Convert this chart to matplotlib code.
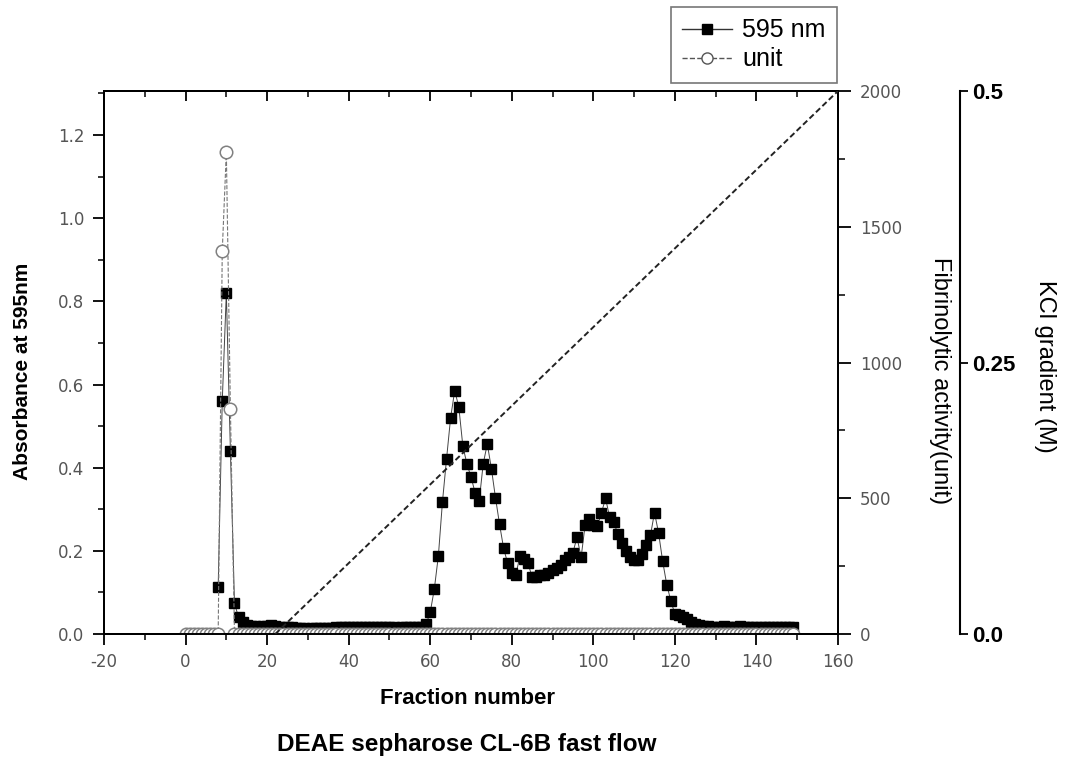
import matplotlib
matplotlib.use('Agg')
import matplotlib.pyplot as plt
from matplotlib.ticker import MultipleLocator, FormatStrFormatter
from matplotlib.lines import Line2D
import numpy as np

plt.rcParams['axes.unicode_minus'] = False

# Absorbance at 595 nm (fractions 8..149)
frac_a = list(range(8, 150))
abs_595 = [
    0.114, 0.56, 0.82, 0.44, 0.074, 0.040, 0.030, 0.022, 0.020, 0.019,   # 8-17
    0.018, 0.019, 0.020, 0.021, 0.020, 0.018, 0.017, 0.017, 0.016, 0.015,  # 18-27
    0.014, 0.014, 0.013, 0.014, 0.014, 0.015, 0.014, 0.015, 0.015, 0.016,  # 28-37
    0.016, 0.016, 0.017, 0.017, 0.017, 0.018, 0.018, 0.017, 0.017, 0.016,  # 38-47
    0.016, 0.017, 0.016, 0.016, 0.015, 0.016, 0.016, 0.017, 0.017, 0.018,  # 48-57
    0.018, 0.024, 0.052, 0.108, 0.188, 0.318, 0.421, 0.520, 0.585, 0.547,  # 58-67
    0.452, 0.409, 0.378, 0.340, 0.319, 0.410, 0.457, 0.398, 0.328, 0.264,  # 68-77
    0.206, 0.170, 0.147, 0.142, 0.188, 0.180, 0.170, 0.136, 0.138, 0.142,  # 78-87
    0.143, 0.147, 0.153, 0.158, 0.166, 0.177, 0.186, 0.196, 0.233, 0.184,  # 88-97
    0.263, 0.276, 0.263, 0.260, 0.292, 0.326, 0.281, 0.270, 0.240, 0.218,  # 98-107
    0.200, 0.185, 0.177, 0.179, 0.193, 0.215, 0.237, 0.292, 0.243, 0.175,  # 108-117
    0.119, 0.080, 0.048, 0.046, 0.041, 0.037, 0.030, 0.025, 0.021, 0.019,  # 118-127
    0.019, 0.018, 0.018, 0.018, 0.019, 0.018, 0.018, 0.018, 0.019, 0.018,  # 128-137
    0.018, 0.018, 0.017, 0.018, 0.018, 0.017, 0.017, 0.017, 0.017, 0.017,  # 138-147
    0.017, 0.017,                                                          # 148-149
]

# Fibrinolytic activity (unit), fractions 0..149
frac_u = list(range(0, 150))
unit_act = [0.0] * 150
unit_act[9] = 1410
unit_act[10] = 1775
unit_act[11] = 828

# KCl gradient (M)
frac_kcl = [22, 160]
kcl = [0.0, 0.5]

W, H = 1066, 758
fig = plt.figure(figsize=(W / 100, H / 100), dpi=100)
ax = fig.add_axes([104 / W, 1 - 634 / H, 734 / W, 543 / H])
ax2 = ax.twinx()
ax3 = ax.twinx()

tick_col = '#555555'

ax.plot(frac_a, abs_595, '-', color='#444444', lw=0.7,
        marker='s', ms=7, mfc='black', mec='black', zorder=3)
ax.set_xlim(-20, 160)
ax.set_ylim(0, 1.306)
ax.yaxis.set_major_locator(MultipleLocator(0.2))
ax.yaxis.set_minor_locator(MultipleLocator(0.1))
ax.yaxis.set_major_formatter(FormatStrFormatter('%.1f'))
ax.xaxis.set_major_locator(MultipleLocator(20))
ax.xaxis.set_minor_locator(MultipleLocator(10))
ax.tick_params(axis='both', which='major', direction='out', length=8, width=1.3,
               labelsize=12, labelcolor=tick_col, pad=6)
ax.tick_params(axis='both', which='minor', direction='out', length=4, width=1.1)
ax.tick_params(axis='y', right=False)
for lab in ax.get_xticklabels() + ax.get_yticklabels():
    lab.set_family('DejaVu Sans')

top = ax.secondary_xaxis('top')
top.xaxis.set_major_locator(MultipleLocator(20))
top.xaxis.set_minor_locator(MultipleLocator(10))
top.tick_params(which='major', direction='in', length=7, width=1.3, labeltop=False)
top.tick_params(which='minor', direction='in', length=4, width=1.1)
top.spines['top'].set_linewidth(1.4)

ax2.plot(frac_u, unit_act, '--', color='#777777', lw=0.8,
         marker='o', ms=9, mfc='white', mec='#808080', mew=1.1, zorder=2)
ax2.set_ylim(0, 2000)
ax2.yaxis.set_major_locator(MultipleLocator(500))
ax2.yaxis.set_minor_locator(MultipleLocator(250))
ax2.tick_params(axis='y', which='major', direction='out', length=9, width=1.3,
                labelsize=12, labelcolor=tick_col, pad=7)
ax2.tick_params(axis='y', which='minor', direction='out', length=5, width=1.1)
for lab in ax2.get_yticklabels():
    lab.set_family('DejaVu Sans')

ax3.plot(frac_kcl, kcl, linestyle=(0, (3, 1.6)), color='#222222', lw=1.4, zorder=4)
ax3.set_ylim(0, 0.5)
ax3.spines['right'].set_position(('axes', (960 - 104) / 734))
ax3.spines['right'].set_linewidth(1.5)
ax3.set_yticks([0.0, 0.25, 0.5])
ax3.set_yticklabels(['0.0', '0.25', '0.5'])
ax3.tick_params(axis='y', direction='out', length=6, width=1.3, labelsize=16, pad=3)
for lab in ax3.get_yticklabels():
    lab.set_family('Liberation Sans')
    lab.set_fontweight('bold')
for s in ['top', 'left', 'bottom']:
    ax3.spines[s].set_visible(False)

for a in (ax, ax2):
    for s in a.spines.values():
        s.set_linewidth(1.4)

fig.text(23 / W, 1 - 371 / H, 'Absorbance at 595nm', rotation=90,
         ha='center', va='center', fontsize=15, fontweight='bold', family='Liberation Sans')
fig.text(468 / W, 1 - 699 / H, 'Fraction number',
         ha='center', va='center', fontsize=16, fontweight='bold', family='Liberation Sans')
fig.text(467 / W, 1 - 744 / H, 'DEAE sepharose CL-6B fast flow',
         ha='center', va='center', fontsize=17.5, fontweight='bold', family='Liberation Sans')
fig.text(940 / W, 1 - 381 / H, 'Fibrinolytic activity(unit)', rotation=270,
         ha='center', va='center', fontsize=17, family='Liberation Sans')
fig.text(1045 / W, 1 - 366 / H, 'KCl gradient (M)', rotation=270,
         ha='center', va='center', fontsize=17, family='Liberation Sans')

handles = [
    Line2D([], [], color='#333333', lw=1.0, marker='s', ms=7, mfc='black', mec='black'),
    Line2D([], [], color='#555555', lw=1.0, ls='--', marker='o', ms=8, mfc='white', mec='#555555'),
]
leg = fig.legend(handles, ['595 nm', 'unit'], loc='upper right',
                 bbox_to_anchor=(837 / W, 1 - 7 / H), borderaxespad=0, fancybox=False,
                 prop=dict(family='Liberation Sans', size=18), handlelength=2.0,
                 handletextpad=0.4, borderpad=0.45, labelspacing=0.2, framealpha=1)
leg.get_frame().set_edgecolor('#777777')
leg.get_frame().set_linewidth(1.2)

plt.savefig('out.png', dpi=100)
